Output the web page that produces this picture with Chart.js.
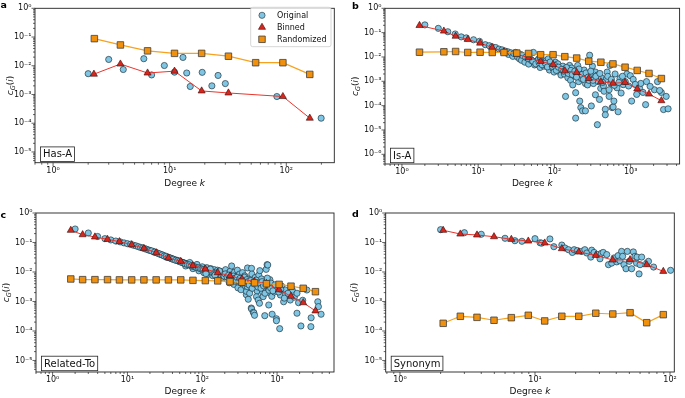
<!DOCTYPE html>
<html>
<head>
<meta charset="utf-8">
<script src="https://cdn.jsdelivr.net/npm/chart.js@4.4.1/dist/chart.umd.min.js"></script>
<style>
  body { margin: 0; background: #fff; width: 685px; height: 398px; position: relative; overflow: hidden; }
  canvas { position: absolute; }
</style>
</head>
<body>
<canvas id="ca" width="342" height="198" style="left:0;top:0"></canvas>
<canvas id="cb" width="343" height="198" style="left:342px;top:0"></canvas>
<canvas id="cc" width="342" height="200" style="left:0;top:198px"></canvas>
<canvas id="cd" width="343" height="200" style="left:342px;top:198px"></canvas>
<script>
const FONT = '"DejaVu Sans", sans-serif';

// ---- a: Has-A ----
const aOriginal = [[2,0.0053],[3,0.0166],[4,0.0074],[6,0.0176],[7,0.0048],[9,0.0102],[11,0.0060],[13,0.0195],
  [14,0.0056],[15,0.0019],[19,0.0059],[23,0.0020],[26,0.0046],[30,0.0024],[83,0.00085],[199,0.00015]];
const aBinDeg = [2.24, 3.78, 6.46, 11.0, 18.8, 31.9, 93.5, 159];
const aBinned = [0.0051, 0.0115, 0.0056, 0.0065, 0.00133, 0.00113, 0.00085, 0.00015];
const aRandDeg = [2.26, 3.78, 6.46, 11.0, 18.8, 31.9, 54.6, 93.5, 159];
const aRandom = [0.088, 0.053, 0.033, 0.027, 0.027, 0.0215, 0.0128, 0.0128, 0.0050];

// ---- b: Is-A ----
const bOriginal = [[2,0.208],[3,0.15],[4,0.109],[5,0.088],[6,0.067],[7,0.061],[8.7,0.051],[10.4,0.044],[12.4,0.032],
  [14,0.029],[15.3,0.026],[17,0.0244],[18.8,0.021],[20.6,0.0196],[22.6,0.0175],[24.6,0.0163],[25,0.0127],[27,0.0148],
  [28.5,0.0106],[29.4,0.014],[31,0.0154],[32,0.0127],[33,0.0097],[35,0.0083],[36,0.0127],[37,0.0073],[38,0.0116],
  [41,0.0061],[42,0.0097],[46,0.0051],[49,0.008],[50,0.0071],[53,0.0154],[55,0.0047],[56,0.0061],[58,0.0066],
  [61.7,0.0081],[65,0.0037],[65,0.0097],[67,0.0055],[71.5,0.0061],[73,0.0042],[78,0.0045],[78,0.007],[83,0.0084],
  [86,0.0029],[91,0.005],[96,0.0033],[99,0.0024],[103,0.0061],[108,0.0035],[111,0.0052],[118,0.0024],[122,0.0018],
  [129,0.0042],[135,0.002],[140,0.00024],[140,0.0033],[146,0.0029],[150,0.0014],[158,0.0045],[158,0.0024],[163,0.0011],
  [168,0.0035],[174,0.00071],[181,0.0017],[190,0.00034],[190,0.0000307],[202,0.0045],[208,0.00097],[215,0.000154],
  [218,0.0024],[222,0.000083],[226,0.0013],[234,0.000061],[245,0.0029],[255,0.000061],[255,0.00081],[266,0.0017],
  [272,0.00071],[290,0.0118],[283,0.0011],[296,0.0018],[305,0.000097],[315,0.0042],[325,0.00081],[332,0.0013],
  [345,0.00028],[345,0.0024],[366,0.0018],[366,0.0000165],[375,0.00097],[390,0.00018],[405,0.00051],[413,0.0014],
  [440,0.00065],[448,0.00039],[465,0.000071],[465,0.000042],[478,0.0012],[492,0.0024],[522,0.00045],[522,0.00024],
  [535,0.0045],[550,0.00081],[571,0.000083],[590,0.000088],[603,0.000154],[625,0.002],[662,0.00054],[685,0.000056],
  [725,0.0013],[750,0.00033],[800,0.00073],[850,0.00097],[891,0.002],[990,0.0017],[1030,0.000154],[1080,0.0012],
  [1200,0.00029],[1310,0.00051],[1360,0.00082],[1570,0.00011],[1615,0.00097],[2050,0.00045],[2250,0.00097],
  [2522,0.00035],[2700,0.000069],[2926,0.00024],[3100,0.000074],
  [45,0.0085],[52,0.0068],[57,0.0052],[63,0.0058],[69,0.0048],[76,0.0055],[81,0.0039],[88,0.0062],[94,0.0041],
  [101,0.0045],[106,0.0028],[113,0.0038],[125,0.0031],[132,0.0026],[144,0.0037],[152,0.0021],[165,0.0028],[172,0.0019],
  [185,0.0026],[195,0.0015],[210,0.0032],[230,0.0019],[240,0.0012],[260,0.0022],[278,0.0015],[300,0.0026],[320,0.0011],
  [350,0.0016],[395,0.0021],[430,0.0009],[500,0.0016],[560,0.0012],[610,0.00068],[700,0.0009],[780,0.0016],
  [940,0.00064],[1150,0.00075],[1450,0.00035],[1800,0.00062],[2400,0.00042]];
const bBinDeg = [1.7, 3.55, 5.06, 7.3, 10.6, 15.3, 21.8, 32.1, 45.8, 66, 96, 137, 196, 282, 407, 586, 845, 1219, 1740, 2530];
const bBinned = [0.197, 0.116, 0.0713, 0.0522, 0.0372, 0.0243, 0.0162, 0.0131, 0.0093, 0.0066, 0.0049, 0.0027,
  0.0023, 0.0013, 0.00096, 0.00083, 0.0009, 0.00049, 0.0003, 0.00016];
const bRandom = [0.0157, 0.0163, 0.0168, 0.0153, 0.0157, 0.0153, 0.0153, 0.0144, 0.0139, 0.0124, 0.0124, 0.0103,
  0.009, 0.0067, 0.0061, 0.0052, 0.0038, 0.0028, 0.0021, 0.0013];

// ---- c: Related-To ----
const cOriginal = [[2,0.287],[3,0.21],[4,0.16],[5,0.135],[6,0.122],[7,0.112],[8,0.105],[9,0.097],[10,0.091],[11,0.087],
  [12,0.081],[13,0.077],[14,0.072],[15,0.068],[16,0.065],[17,0.062],[18,0.059],[19,0.056],[20,0.054],[22,0.05],[24,0.046],
  [26,0.042],[28,0.039],[30,0.037],[32,0.034],[34,0.032],[36,0.031],[38,0.029],[40,0.028],[43,0.026],[46,0.025],[49,0.023],
  [52,0.022],[55,0.021],[58,0.02],[62,0.019],[66,0.018],[70,0.017],[74,0.016],[78,0.0155],[82,0.015],[87,0.014],[92,0.0135],
  [97,0.013],[103,0.0125],[108,0.0118],[114,0.0112],[120,0.0108],[127,0.0102],[134,0.0098],[141,0.0094],[150,0.009],
  [60,0.016],[68,0.021],[75,0.013],[85,0.018],[90,0.011],[100,0.015],[105,0.0095],[115,0.014],[122,0.0085],[130,0.013],
  [138,0.0075],[145,0.012],[155,0.0072],[160,0.0115],[168,0.0082],[175,0.0105],[182,0.0065],[190,0.0095],[198,0.0078],
  [205,0.012],[212,0.0058],[220,0.0088],[228,0.007],[230,0.0043],[236,0.0105],[240,0.0052],[247,0.016],[255,0.0082],
  [262,0.0062],[265,0.0038],[270,0.0098],[278,0.0048],[286,0.0072],[295,0.0115],[300,0.0029],[305,0.0056],[315,0.0085],
  [325,0.0045],[330,0.0025],[335,0.0065],[345,0.0095],[358,0.0038],[360,0.0057],[370,0.0074],[380,0.0032],[388,0.0017],
  [390,0.0022],[400,0.0032],[403,0.0137],[412,0.00119],[420,0.0058],[430,0.0019],[435,0.0042],[452,0.0006],[456,0.0133],
  [456,0.00056],[460,0.0085],[470,0.0036],[481,0.00043],[490,0.00041],[500,0.00034],[510,0.0065],[520,0.0028],
  [531,0.00146],[540,0.0023],[545,0.0048],[560,0.00112],[570,0.0078],[582,0.00087],[588,0.0111],[600,0.0036],[620,0.0058],
  [640,0.0021],[652,0.00146],[670,0.0045],[685,0.00033],[700,0.0025],[715,0.0123],[736,0.0177],[750,0.0173],[760,0.0027],
  [774,0.0032],[774,0.00076],[800,0.0055],[815,0.0019],[830,0.0042],[850,0.0015],[859,0.00037],[900,0.0031],[920,0.0021],
  [980,0.00026],[980,0.000223],[1000,0.0026],[1084,0.00012],[1107,0.00166],[1150,0.0033],[1224,0.00098],[1290,0.00245],
  [1300,0.0017],[1500,0.00112],[1600,0.0024],[1700,0.0014],[1845,0.0019],[1845,0.0004],[1936,0.00091],[2083,0.000148],
  [2200,0.0011],[2500,0.00245],[2830,0.00014],[2853,0.00028],[3500,0.00098],[3570,0.00067],[3874,0.00037],
  [21,0.052],[23,0.047],[25,0.044],[27,0.041],[29,0.038],[31,0.035],[33,0.034],[35,0.031],[37,0.03],[39,0.028],
  [41,0.027],[44,0.025],[47,0.024],[50,0.023],[53,0.021],[56,0.0205],[59,0.019],[63,0.018],[67,0.0175],[71,0.016],
  [76,0.0155],[80,0.0148],[84,0.014],[89,0.0138],[94,0.013],[99,0.0125],[104,0.012],[110,0.0115],[117,0.011],
  [124,0.0105],[131,0.01],[137,0.0096],[144,0.0092],[152,0.0088],[158,0.0094],[165,0.0085],[172,0.009],[180,0.0078],
  [188,0.0083],[196,0.0072],[203,0.0086],[215,0.0068],[225,0.0078],[233,0.0063],[245,0.0071],[252,0.0058],[260,0.0073],
  [275,0.0062],[283,0.0053],[292,0.0066],[310,0.0049],[320,0.0061],[340,0.0052],[355,0.0046],[365,0.0067],[385,0.0041],
  [395,0.0055],[410,0.0047],[425,0.0036],[445,0.0051],[465,0.0028],[485,0.0044],[505,0.0039],[525,0.0053],[555,0.0031],
  [575,0.0042],[610,0.0028],[630,0.0047],[660,0.0034],[690,0.0019],[720,0.0038],[740,0.0062],[780,0.0024],[820,0.0029],
  [880,0.0023],[940,0.0037],[1050,0.0021],[1120,0.0026],[1250,0.0013],[1400,0.0019],
  [112,0.0088],[128,0.0125],[148,0.0078],[170,0.0108]];
const cBinDeg = [1.75, 2.52, 3.68, 5.42, 7.82, 11.4, 16.6, 24.2, 35.3, 51.6, 75.1, 110, 161, 235, 339, 500, 721,
  1064, 1535, 2235, 3257];
const cBinned = [0.259, 0.184, 0.154, 0.128, 0.107, 0.0845, 0.0634, 0.0451, 0.0298, 0.023, 0.0164, 0.0126, 0.0095,
  0.0074, 0.0058, 0.0047, 0.0041, 0.0025, 0.0015, 0.00091, 0.00048];
const cRandom = [0.0058, 0.0055, 0.0055, 0.0055, 0.0054, 0.0054, 0.0054, 0.0054, 0.0054, 0.0054, 0.0052, 0.0051,
  0.005, 0.0047, 0.0045, 0.0043, 0.004, 0.0038, 0.0033, 0.0028, 0.00215];

// ---- d: Synonym ----
const dOriginal = [[2,0.272],[3,0.215],[4,0.19],[6,0.139],[7.1,0.115],[8,0.11],[10,0.135],[10.9,0.098],[11.2,0.095],
  [12.9,0.132],[13.8,0.072],[15.8,0.082],[16.7,0.065],[17.7,0.057],[18.9,0.046],[19.5,0.057],[20.6,0.053],[22.2,0.05],
  [23.4,0.057],[24.2,0.044],[25.9,0.032],[26.3,0.055],[27.4,0.046],[29.2,0.039],[30.3,0.028],[31,0.043],[32,0.046],
  [34,0.039],[35,0.0177],[37,0.02],[38.5,0.03],[40.3,0.022],[41.3,0.036],[42.6,0.024],[43.8,0.05],[44.6,0.034],
  [45.6,0.0177],[47.2,0.0129],[48.3,0.05],[50,0.023],[52,0.0129],[53.5,0.048],[55,0.034],[56.5,0.02],[57,0.032],
  [59,0.0086],[60,0.0177],[61.7,0.032],[67.2,0.02],[69.3,0.023],[75.6,0.0147],[101,0.0114]];
const dBinDeg = [2.09, 2.8, 3.72, 4.97, 6.68, 8.92, 11.8, 15.8, 21.1, 28.2, 37.7, 50.6, 67.2, 89.2];
const dBinned = [0.259, 0.194, 0.18, 0.157, 0.128, 0.112, 0.096, 0.0617, 0.0476, 0.0367, 0.0255, 0.0262, 0.0177, 0.0105];
const dRandom = [0.000182, 0.000315, 0.00029, 0.000231, 0.000283, 0.00034, 0.000219, 0.000315, 0.000315, 0.0004,
  0.000377, 0.000417, 0.000191, 0.000358];

const BLUE = '#7ec6e4', BLUE_EDGE = '#1c2b34';
const RED = '#d9261c', RED_LINE = '#e8352c', RED_EDGE = '#3b0d0b';
const ORANGE = '#f0900c', ORANGE_LINE = '#f6a21e', ORANGE_EDGE = '#3d3d3d';

const SUP = {'-': '\u207b', '0': '\u2070', '1': '\u00b9', '2': '\u00b2', '3': '\u00b3', '4': '\u2074', '5': '\u2075', '6': '\u2076', '7': '\u2077'};
function powLabel(v) {
  const l = Math.log10(v);
  const r = Math.round(l);
  if (Math.abs(l - r) > 1e-6) return '';
  return '10' + String(r).split('').map(ch => SUP[ch]).join('');
}

function pairs(list) { return list.map(p => ({x: p[0], y: p[1]})); }
function zip(ks, cs) { return ks.map((k, i) => ({x: k, y: cs[i]})); }

function originalSet(list) {
  return { label: 'Original', data: pairs(list), showLine: false, pointStyle: 'circle', pointRadius: 3.1,
    pointBackgroundColor: BLUE, pointBorderColor: BLUE_EDGE, pointBorderWidth: 0.65, order: 3 };
}
function binnedSet(ks, cs) {
  return { label: 'Binned', data: zip(ks, cs), showLine: true, borderColor: RED_LINE, borderWidth: 1,
    pointStyle: 'triangle', pointRadius: 4.1, pointBackgroundColor: RED, pointBorderColor: RED_EDGE,
    pointBorderWidth: 0.6, order: 2 };
}
function randomSet(ks, cs) {
  return { label: 'Randomized', data: zip(ks, cs), showLine: true, borderColor: ORANGE_LINE, borderWidth: 1.2,
    pointStyle: 'rect', pointRadius: 4.6, pointBackgroundColor: ORANGE, pointBorderColor: ORANGE_EDGE,
    pointBorderWidth: 0.8, order: 1 };
}

function logTicks(min, max) {
  const out = [];
  for (let e = Math.floor(Math.log10(min)); e <= Math.ceil(Math.log10(max)); e++) {
    for (let m = 1; m <= 9; m++) {
      const v = m * Math.pow(10, e);
      if (v >= min * 0.9999 && v <= max * 1.0001) out.push([v, m === 1]);
    }
  }
  return out;
}

function drawMarker(ctx, style, x, y) {
  ctx.beginPath();
  if (style === 'circle') {
    ctx.arc(x, y, 3.1, 0, Math.PI * 2);
    ctx.fillStyle = BLUE; ctx.strokeStyle = BLUE_EDGE; ctx.lineWidth = 0.6;
  } else if (style === 'triangle') {
    ctx.moveTo(x, y - 4.1); ctx.lineTo(x + 3.55, y + 2.05); ctx.lineTo(x - 3.55, y + 2.05); ctx.closePath();
    ctx.fillStyle = RED; ctx.strokeStyle = RED_EDGE; ctx.lineWidth = 0.6;
  } else {
    ctx.rect(x - 3.25, y - 3.25, 6.5, 6.5);
    ctx.fillStyle = ORANGE; ctx.strokeStyle = ORANGE_EDGE; ctx.lineWidth = 0.8;
  }
  ctx.fill(); ctx.stroke();
}

const decoPlugin = {
  id: 'deco',
  afterDraw(chart, args, o) {
    const ctx = chart.ctx, a = chart.chartArea;
    const xs = chart.scales.x, ys = chart.scales.y;
    ctx.save();
    ctx.strokeStyle = '#222';
    ctx.lineWidth = 0.9;
    ctx.strokeRect(a.left, a.top, a.right - a.left, a.bottom - a.top);

    ctx.lineWidth = 0.7;
    ctx.beginPath();
    logTicks(xs.min, xs.max).forEach(([v, major]) => {
      const p = xs.getPixelForValue(v);
      ctx.moveTo(p, a.bottom); ctx.lineTo(p, a.bottom + (major ? 3.5 : 2));
    });
    logTicks(ys.min, ys.max).forEach(([v, major]) => {
      const p = ys.getPixelForValue(v);
      ctx.moveTo(a.left, p); ctx.lineTo(a.left - (major ? 3.5 : 2), p);
    });
    ctx.stroke();

    ctx.fillStyle = '#111';
    ctx.textBaseline = 'middle';
    // x title
    const cx = (a.left + a.right) / 2;
    ctx.font = '9px ' + FONT;
    const w1 = ctx.measureText('Degree ').width;
    ctx.font = 'italic 9px ' + FONT;
    const w2 = ctx.measureText('k').width;
    ctx.textAlign = 'left';
    ctx.font = '9px ' + FONT;
    ctx.fillText('Degree ', cx - (w1 + w2) / 2, o.xTitleY);
    ctx.font = 'italic 9px ' + FONT;
    ctx.fillText('k', cx - (w1 + w2) / 2 + w1, o.xTitleY);

    // y title c_G(i)
    const parts = [['c', 'italic 9px ', 0], ['G', 'italic 6.5px ', 2], ['(', '9px ', 0], ['i', 'italic 9px ', 0], [')', '9px ', 0]];
    let tot = 0;
    parts.forEach(p => { ctx.font = p[1] + FONT; p.push(ctx.measureText(p[0]).width); tot += p[3]; });
    ctx.translate(o.yTitleX, (a.top + a.bottom) / 2);
    ctx.rotate(-Math.PI / 2);
    ctx.textBaseline = 'alphabetic';
    let px = -tot / 2;
    parts.forEach(p => { ctx.font = p[1] + FONT; ctx.fillText(p[0], px, 3 + p[2]); px += p[3]; });
    ctx.setTransform(1, 0, 0, 1, 0, 0);

    // panel letter
    ctx.font = 'bold 9.5px ' + FONT;
    ctx.textAlign = 'left';
    ctx.textBaseline = 'alphabetic';
    ctx.fillStyle = '#000';
    ctx.fillText(o.letter, o.letterX, o.letterY);

    // relation label box
    ctx.font = '10px ' + FONT;
    const tw = ctx.measureText(o.relation).width;
    const bx = a.left + 5.5, bb = a.bottom - 1.3, bh = 14.5, bw = tw + 5;
    ctx.fillStyle = '#fff';
    ctx.fillRect(bx, bb - bh, bw, bh);
    ctx.strokeStyle = '#222'; ctx.lineWidth = 0.8;
    ctx.strokeRect(bx, bb - bh, bw, bh);
    ctx.fillStyle = '#111';
    ctx.textBaseline = 'middle';
    ctx.fillText(o.relation, bx + 2.5, bb - bh / 2 + 0.5);

    // legend
    if (o.legend) {
      const L = o.legend;
      ctx.beginPath();
      ctx.roundRect(L.x, L.y, L.w, L.h, 2);
      ctx.fillStyle = 'rgba(255,255,255,0.8)';
      ctx.fill();
      ctx.strokeStyle = '#cccccc'; ctx.lineWidth = 0.8;
      ctx.stroke();
      const styles = {Original: 'circle', Binned: 'triangle', Randomized: 'rect'};
      ['Original', 'Binned', 'Randomized'].forEach((name, i) => {
        const yy = L.y + 8 + i * 12;
        drawMarker(ctx, styles[name], L.x + 11.3, yy);
        ctx.font = '8px ' + FONT;
        ctx.fillStyle = '#111';
        ctx.textAlign = 'left'; ctx.textBaseline = 'middle';
        ctx.fillText(name, L.x + 26.3, yy + 0.5);
      });
    }
    ctx.restore();
  }
};

const panels = [
  { id: 'ca', pad: {top: 5, right: 7.7, bottom: 15.3, left: 0}, yw: 35, xr: [0.72, 258], yr: [4.23e-6, 1],
    orig: aOriginal, binDeg: aBinDeg, bin: aBinned, randDeg: aRandDeg, rand: aRandom,
    deco: { letter: 'a', letterX: 0.5, letterY: 7.5, relation: 'Has-A', yTitleX: 10, xTitleY: 184,
      legend: {x: 250.7, y: 7.3, w: 80.3, h: 39.4} } },
  { id: 'cb', pad: {top: 5, right: 1.7, bottom: 14, left: 0}, yw: 43, xr: [0.641, 4385], yr: [4.0e-7, 1],
    orig: bOriginal, binDeg: bBinDeg, bin: bBinned, randDeg: bBinDeg, rand: bRandom,
    deco: { letter: 'b', letterX: 10, letterY: 8.5, relation: 'Is-A', yTitleX: 12.5, xTitleY: 184 } },
  { id: 'cc', pad: {top: 15, right: 8, bottom: 6, left: 0}, yw: 36, xr: [0.638, 5765], yr: [4.07e-6, 1],
    orig: cOriginal, binDeg: cBinDeg, bin: cBinned, randDeg: cBinDeg, rand: cRandom,
    deco: { letter: 'c', letterX: 0.5, letterY: 19.5, relation: 'Related-To', yTitleX: 6, xTitleY: 194 } },
  { id: 'cd', pad: {top: 15, right: 10.7, bottom: 6, left: 0}, yw: 43.7, xr: [0.784, 107.6], yr: [4.07e-6, 1],
    orig: dOriginal, binDeg: dBinDeg, bin: dBinned, randDeg: dBinDeg, rand: dRandom,
    deco: { letter: 'd', letterX: 10, letterY: 18.5, relation: 'Synonym', yTitleX: 12, xTitleY: 194 } }
];

panels.forEach(p => {
  new Chart(document.getElementById(p.id), {
    type: 'scatter',
    data: { datasets: [originalSet(p.orig), binnedSet(p.binDeg, p.bin), randomSet(p.randDeg, p.rand)] },
    options: {
      responsive: false,
      animation: false,
      layout: { padding: p.pad },
      plugins: { legend: { display: false }, tooltip: { enabled: false }, deco: p.deco },
      scales: {
        x: { type: 'logarithmic', position: 'bottom', min: p.xr[0], max: p.xr[1],
          border: { display: false }, grid: { display: false, drawTicks: false },
          ticks: { autoSkip: false, maxRotation: 0, minRotation: 0, padding: 3, color: '#111',
            font: { family: FONT, size: 8 }, callback: powLabel },
          afterFit: s => { s.height = 20; } },
        y: { type: 'logarithmic', position: 'left', min: p.yr[0], max: p.yr[1],
          border: { display: false }, grid: { display: false, drawTicks: false },
          ticks: { autoSkip: false, padding: 3.5, color: '#111',
            font: { family: FONT, size: 8 }, callback: powLabel },
          afterFit: s => { s.width = p.yw; } }
      }
    },
    plugins: [decoPlugin]
  });
});
</script>
</body>
</html>
